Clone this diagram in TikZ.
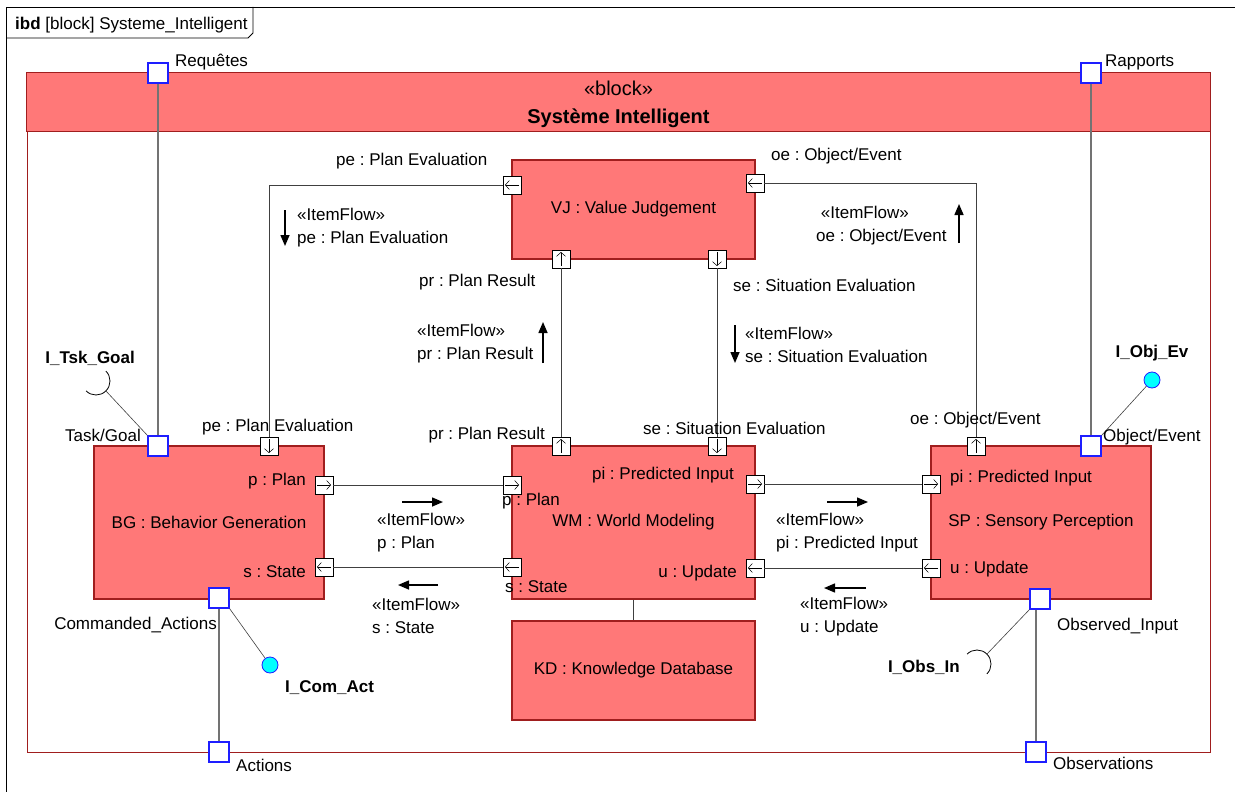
\documentclass[tikz,border=0pt]{standalone}
\usepackage{fontspec}
\setmainfont{Liberation Sans}
\usetikzlibrary{arrows.meta,positioning}
\frenchspacing

\definecolor{blockred}{RGB}{255,120,120}
\definecolor{blockline}{RGB}{160,30,30}
\definecolor{portblue}{RGB}{30,30,255}
\definecolor{ballcyan}{RGB}{0,255,255}
\definecolor{wiregray}{RGB}{115,115,115}

\begin{document}
\begin{tikzpicture}[x=1pt, y=-1pt, >={Triangle[length=11pt,width=9pt]},
  font=\fontsize{17}{21}\selectfont,
  part/.style={draw=blockline, fill=blockred, line width=1.2pt, inner sep=0pt},
  fport/.style={draw, fill=white, minimum size=18pt, inner sep=0pt, line width=0.6pt,
    path picture={\draw[-{Straight Barb[length=4pt,width=9pt]}, line width=0.5pt]
      ([shift={(#1:-7pt)}]path picture bounding box.center) -- ([shift={(#1:7pt)}]path picture bounding box.center);}},
  bport/.style={draw=portblue, fill=white, minimum size=20pt, inner sep=0pt, line width=1.2pt},
  lbl/.style={inner sep=0pt, text height=12pt, text depth=3.5pt},
  flowlbl/.style={inner sep=0pt, align=left, font=\fontsize{17}{23}\selectfont},
  flowarr/.style={->, line width=1.5pt},
  link/.style={draw=black!75, line width=0.8pt},
  wire/.style={draw=wiregray, line width=1.5pt},
  ball/.style={circle, draw=portblue, fill=ballcyan, minimum size=16pt, inner sep=0pt, line width=0.8pt},
  iname/.style={inner sep=0pt, font=\fontsize{17}{21}\selectfont\bfseries}]
  \useasboundingbox (0,0) rectangle (1235,792);

  % diagram frame
  \draw[line width=0.8pt] (1235,7) -- (6,7) -- (6,792);
  \draw[line width=0.8pt] (6,38) -- (248,38) -- (253,33) -- (253,7);
  \node[lbl, anchor=west] (frametitle) at (15,25) {\textbf{ibd} [block] Systeme\_Intelligent};

  % enclosing block
  \node[draw=blockline, line width=0.8pt, minimum width=1183pt, minimum height=679pt, inner sep=0pt] (sys) at (618.5,412.5) {};
  \path[fill=blockred, draw=blockline, line width=0.8pt] (sys.north west) rectangle ([yshift=-59pt]sys.north east);
  \node[font=\fontsize{20}{24}\selectfont] (stereo) at (618.5,88) {«block»};
  \node[font=\fontsize{20}{24}\selectfont\bfseries] (title) at (618.5,118) {Système Intelligent};

  % parts
  \node[part, minimum width=230pt, minimum height=153pt] (bg) at (209,522.5) {BG : Behavior Generation};
  \node[part, minimum width=243pt, minimum height=99pt] (vj) at (633.5,209.5) {VJ : Value Judgement};
  \node[part, minimum width=243pt, minimum height=153pt] (wm) at (633.5,522.5) {WM : World Modeling};
  \node[part, minimum width=220pt, minimum height=153pt] (sp) at (1041,522.5) {SP : Sensory Perception};
  \node[part, minimum width=243pt, minimum height=99pt] (kd) at (633.5,670.5) {KD : Knowledge Database};

  % flow ports
  \node[fport=270] (bgpe) at (269,446) {};
  \node[fport=0] (bgp) at (324,485) {};
  \node[fport=180] (bgs) at (324,567) {};
  \node[fport=180] (vjpe) at (512,185) {};
  \node[fport=180] (vjoe) at (755,183) {};
  \node[fport=90] (vjpr) at (561,259) {};
  \node[fport=270] (vjse) at (717,259) {};
  \node[fport=0] (wmp) at (512,485) {};
  \node[fport=180] (wms) at (512,567) {};
  \node[fport=90] (wmpr) at (561,446) {};
  \node[fport=270] (wmse) at (717,446) {};
  \node[fport=0] (wmpi) at (755,484) {};
  \node[fport=180] (wmu) at (755,568) {};
  \node[fport=90] (spoe) at (976,446) {};
  \node[fport=0] (sppi) at (931,484) {};
  \node[fport=180] (spu) at (931,568) {};

  % proxy ports
  \node[bport] (req) at (158,73) {};
  \node[bport] (rap) at (1091,73) {};
  \node[bport] (act) at (219,752) {};
  \node[bport] (obs) at (1036,752) {};
  \node[bport] (bgtask) at (158,446) {};
  \node[bport] (bgcmd) at (219,598) {};
  \node[bport] (spobj) at (1091,446) {};
  \node[bport] (spobs) at (1040,599) {};

  % delegation wires
  \draw[wire] (req) -- (bgtask);
  \draw[wire] (rap) -- (spobj);
  \draw[wire] (act) -- (bgcmd);
  \draw[wire] (obs) -- (obs |- spobs.south);

  % connectors
  \draw[link] (vjpe) -| (bgpe);
  \draw[link] (vjoe) -| (spoe);
  \draw[link] (wmpr) -- (vjpr);
  \draw[link] (vjse) -- (wmse);
  \draw[link] (bgp) -- (wmp);
  \draw[link] (wms) -- (bgs);
  \draw[link] (wmpi) -- (sppi);
  \draw[link] (spu) -- (wmu);
  \draw[link] (wm) -- (kd);

  % interfaces
  \coordinate (tskc) at (96,381);
  \draw[line width=0.8pt] ([shift={(45:14pt)}]tskc) arc[start angle=45, end angle=-135, radius=14pt];
  \draw[link, line width=0.6pt] (bgtask.north west) -- ([shift={(-45:14pt)}]tskc);
  \coordinate (obsc) at (977,664);
  \draw[line width=0.8pt] ([shift={(135:14pt)}]obsc) arc[start angle=135, end angle=-45, radius=14pt];
  \draw[link, line width=0.6pt] (spobs.south west) -- ([shift={(45:14pt)}]obsc);
  \node[ball] (comact) at (270,665) {};
  \draw[link, line width=0.6pt] (bgcmd.south east) -- (comact);
  \node[ball] (objev) at (1152,380) {};
  \draw[link, line width=0.6pt] (spobj.north east) -- (objev);

  \node[iname, anchor=east] (tsklbl) at (135,358) {I\_Tsk\_Goal};
  \node[iname, anchor=west] (comlbl) at (285,688) {I\_Com\_Act};
  \node[iname, above=10pt of objev] (objlbl) {I\_Obj\_Ev};
  \node[iname, anchor=east] (obslbl) at (960,667) {I\_Obs\_In};

  % port names
  \node[lbl, anchor=west] (reqlbl) at (175,62) {Requêtes};
  \node[lbl, anchor=west] (raplbl) at (1105,62) {Rapports};
  \node[lbl, anchor=west] (actlbl) at (236,767) {Actions};
  \node[lbl, anchor=west] (obslbl2) at (1053,765) {Observations};
  \node[lbl, anchor=east] (tasklbl) at (141,437) {Task/Goal};
  \node[lbl, anchor=east] (cmdlbl) at (217,625) {Commanded\_Actions};
  \node[lbl, anchor=west] (objevlbl) at (1103,437) {Object/Event};
  \node[lbl, anchor=west] (obsinlbl) at (1057,626) {Observed\_Input};

  \node[lbl, anchor=west] (bgpelbl) at (202,427) {pe : Plan Evaluation};
  \node[lbl, anchor=east] (bgplbl) at (306,481) {p : Plan};
  \node[lbl, anchor=east] (bgslbl) at (306,573) {s : State};
  \node[lbl, anchor=west] (vjpelbl) at (336,161) {pe : Plan Evaluation};
  \node[lbl, anchor=west] (vjoelbl) at (771,156) {oe : Object/Event};
  \node[lbl, anchor=west] (vjprlbl) at (419,282) {pr : Plan Result};
  \node[lbl, anchor=west] (vjselbl) at (733,287) {se : Situation Evaluation};
  \node[lbl, anchor=east] (wmprlbl) at (545,435) {pr : Plan Result};
  \node[lbl, anchor=west] (wmselbl) at (643,430) {se : Situation Evaluation};
  \node[lbl, anchor=west] (wmplbl) at (502,501) {p : Plan};
  \node[lbl, anchor=west] (wmslbl) at (505,588) {s : State};
  \node[lbl, anchor=east] (wmpilbl) at (734,475) {pi : Predicted Input};
  \node[lbl, anchor=east] (wmulbl) at (737,573) {u : Update};
  \node[lbl, anchor=west] (spoelbl) at (910,420) {oe : Object/Event};
  \node[lbl, anchor=west] (sppilbl) at (950,478) {pi : Predicted Input};
  \node[lbl, anchor=west] (spulbl) at (950,569) {u : Update};

  % item flows
  \node[flowlbl, anchor=west] (peflow) at (297,227.5) {«ItemFlow»\\pe : Plan Evaluation};
  \draw[flowarr] (285,210) -- (285,246);
  \node[flowlbl, anchor=west] (oeflow) at (816,226) {\ «ItemFlow»\\oe : Object/Event};
  \draw[flowarr] (959,243) -- (959,204);
  \node[flowlbl, anchor=west] (prflow) at (417,344) {«ItemFlow»\\pr : Plan Result};
  \draw[flowarr] (543,363) -- (543,322);
  \node[flowlbl, anchor=west] (seflow) at (745,344.5) {«ItemFlow»\\se : Situation Evaluation};
  \draw[flowarr] (735,325) -- (735,363);
  \node[flowlbl, anchor=west] (pflow) at (377,532.5) {«ItemFlow»\\p : Plan};
  \draw[flowarr] (402,502) -- (443,502);
  \node[flowlbl, anchor=west] (sflow) at (372,615.5) {«ItemFlow»\\s : State};
  \draw[flowarr] (438,585) -- (398,585);
  \node[flowlbl, anchor=west] (piflow) at (776,533) {«ItemFlow»\\pi : Predicted Input};
  \draw[flowarr] (827,502) -- (868,502);
  \node[flowlbl, anchor=west] (uflow) at (800,616.5) {«ItemFlow»\\u : Update};
  \draw[flowarr] (866,588) -- (824,588);
\end{tikzpicture}
\end{document}
